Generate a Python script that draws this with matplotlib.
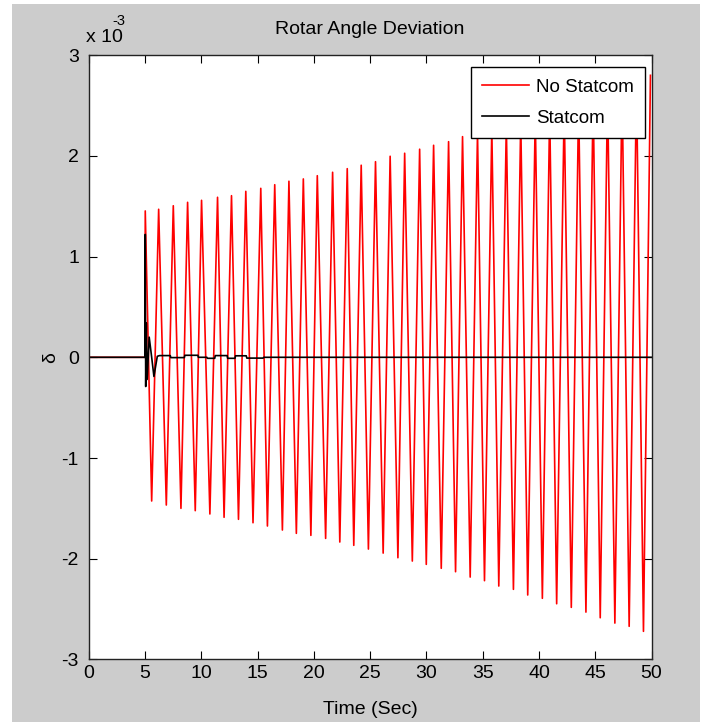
import matplotlib
matplotlib.use("Agg")
import matplotlib.pyplot as plt
from matplotlib.patches import Rectangle

# values in units of 1e-3
peak_t = [5.03, 6.22, 7.52, 8.79, 10.03, 11.45, 12.69, 13.96, 15.29, 16.53,
          17.79, 19.07, 20.31, 21.67, 22.97, 24.21, 25.48, 26.78, 28.07, 29.40,
          30.64, 31.97, 33.21, 34.54, 35.81, 37.10, 38.38, 39.67, 40.95, 42.24,
          43.52, 44.81, 46.09, 47.38, 48.66, 49.90]
peak_v = [1.453, 1.470, 1.505, 1.539, 1.559, 1.589, 1.605, 1.648, 1.678, 1.714,
          1.748, 1.771, 1.803, 1.837, 1.873, 1.907, 1.942, 1.996, 2.026, 2.066,
          2.105, 2.141, 2.191, 2.230, 2.273, 2.316, 2.361, 2.406, 2.452, 2.499,
          2.547, 2.596, 2.646, 2.697, 2.749, 2.800]
trough_t = [5.60, 6.90, 8.20, 9.47, 10.77, 12.03, 13.31, 14.60, 15.88, 17.21,
            18.45, 19.74, 21.05, 22.31, 23.55, 24.85, 26.16, 27.47, 28.75, 29.99,
            31.32, 32.59, 33.89, 35.16, 36.43, 37.73, 39.00, 40.30, 41.57, 42.87,
            44.17, 45.44, 46.74, 48.01, 49.28]
trough_v = [-1.427, -1.467, -1.500, -1.523, -1.556, -1.589, -1.609, -1.643, -1.675, -1.715,
            -1.748, -1.768, -1.798, -1.834, -1.867, -1.904, -1.944, -1.990, -2.023, -2.056,
            -2.095, -2.129, -2.182, -2.218, -2.271, -2.304, -2.360, -2.393, -2.447, -2.483,
            -2.530, -2.586, -2.639, -2.671, -2.721]

statcom_t = [0, 5.0, 5.03, 5.07, 5.12, 5.2, 5.38, 5.6, 5.8, 6.1,
             6.3, 7.25, 7.3, 8.5, 8.55, 9.7, 9.75, 10.5, 10.55, 11.2,
             11.25, 12.3, 12.35, 13.0, 13.05, 14.0, 14.05, 15.5, 15.55, 50]
statcom_v = [0, 0, 1.22, -0.29, 0.34, -0.22, 0.20, 0.0, -0.19, 0.01,
             0.017, 0.017, -0.003, -0.003, 0.02, 0.02, 0.0, 0.0, -0.01, -0.01,
             0.017, 0.017, -0.01, -0.01, 0.015, 0.015, -0.008, -0.008, 0.0, 0.0]

x_ticks = [0, 5, 10, 15, 20, 25, 30, 35, 40, 45, 50]
y_ticks = [-3, -2, -1, 0, 1, 2, 3]

# merge peaks and troughs into one series
no_t = [0, 5.0]
no_v = [0, 0]
for i in range(len(peak_t)):
    no_t.append(peak_t[i])
    no_v.append(peak_v[i])
    if i < len(trough_t):
        no_t.append(trough_t[i])
        no_v.append(trough_v[i])

plt.rcParams["font.family"] = ["Liberation Sans", "DejaVu Sans"]
plt.rcParams["font.size"] = 14
plt.rcParams["axes.unicode_minus"] = False

fig = plt.figure(figsize=(7.09, 7.26), dpi=100, facecolor="white")
fig.patches.append(Rectangle((12 / 709, 4 / 726), 688 / 709, 718 / 726,
                             transform=fig.transFigure, facecolor="#cccccc",
                             edgecolor="none", zorder=-10))

ax = fig.add_axes([0.125, 0.0917, 0.794, 0.8323])
ax.set_facecolor("white")
ax.plot(no_t, no_v, color="red", lw=1.2, label="No Statcom")
ax.plot(statcom_t, statcom_v, color="black", lw=1.2, label="Statcom")

ax.set_xlim(0, 50)
ax.set_ylim(-3, 3)
ax.set_xticks(x_ticks)
ax.set_yticks(y_ticks)
ax.tick_params(direction="in", top=True, right=True, length=6, width=0.8,
               labelsize=14)
ax.tick_params(axis="y", pad=7)
ax.tick_params(axis="x", pad=4)
for s in ax.spines.values():
    s.set_linewidth(1.0)
    s.set_color("#222222")

ax.set_title("Rotar Angle Deviation", fontsize=14, pad=15)
ax.set_xlabel("Time (Sec)", fontsize=14, labelpad=14)
ax.set_ylabel("δ", fontsize=14, labelpad=2)

fig.text(0.122, 0.937, "x 10", fontsize=14, ha="left", va="bottom")
fig.text(0.158, 0.962, "-3", fontsize=10.5, ha="left", va="bottom")

leg = ax.legend(loc="upper right", bbox_to_anchor=(0.988, 0.980), borderaxespad=0,
                fancybox=False, framealpha=1, edgecolor="black", fontsize=13.5,
                handlelength=2.5, borderpad=0.6, labelspacing=0.75, handletextpad=0.35)
leg.get_frame().set_linewidth(1.0)

fig.savefig("out.png", dpi=100)
